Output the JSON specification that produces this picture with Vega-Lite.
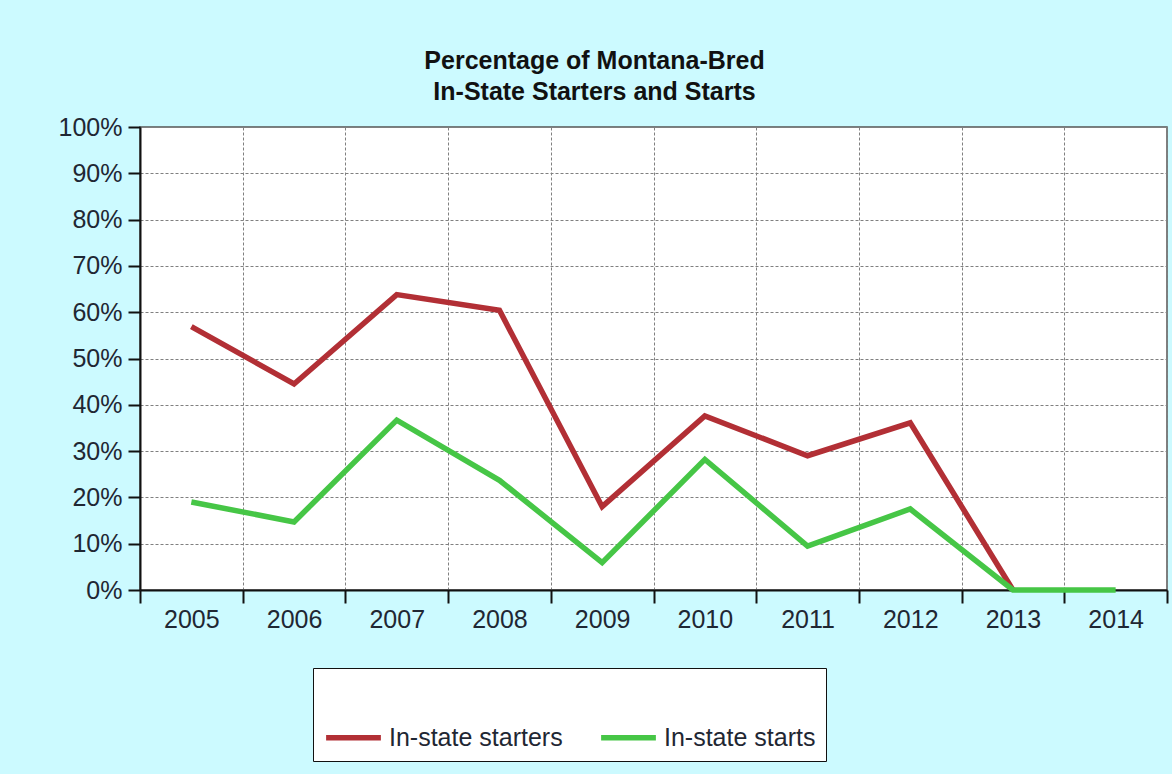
{
  "$schema": "https://vega.github.io/schema/vega-lite/v6.json",
  "autosize": {"type": "none"},
  "width": 1027,
  "height": 463,
  "padding": {"left": 140, "top": 127, "right": 5, "bottom": 184},
  "background": "#CCFAFF",
  "title": {
    "text": ["Percentage of Montana-Bred", "In-State Starters and Starts"],
    "font": "Liberation Sans",
    "fontSize": 25,
    "fontWeight": "bold",
    "color": "#111111",
    "anchor": "middle",
    "frame": "group",
    "dx": -59,
    "offset": 10,
    "lineHeight": 31
  },
  "data": {
    "values": [
      {"year": "2005", "series": "In-state starters", "pct": 0.569},
      {"year": "2006", "series": "In-state starters", "pct": 0.445},
      {"year": "2007", "series": "In-state starters", "pct": 0.638},
      {"year": "2008", "series": "In-state starters", "pct": 0.604},
      {"year": "2009", "series": "In-state starters", "pct": 0.180},
      {"year": "2010", "series": "In-state starters", "pct": 0.376},
      {"year": "2011", "series": "In-state starters", "pct": 0.290},
      {"year": "2012", "series": "In-state starters", "pct": 0.361},
      {"year": "2013", "series": "In-state starters", "pct": 0.0},
      {"year": "2005", "series": "In-state starts", "pct": 0.190},
      {"year": "2006", "series": "In-state starts", "pct": 0.147},
      {"year": "2007", "series": "In-state starts", "pct": 0.367},
      {"year": "2008", "series": "In-state starts", "pct": 0.237},
      {"year": "2009", "series": "In-state starts", "pct": 0.059},
      {"year": "2010", "series": "In-state starts", "pct": 0.282},
      {"year": "2011", "series": "In-state starts", "pct": 0.095},
      {"year": "2012", "series": "In-state starts", "pct": 0.175},
      {"year": "2013", "series": "In-state starts", "pct": 0.0},
      {"year": "2014", "series": "In-state starts", "pct": 0.0}
    ]
  },
  "mark": {"type": "line", "strokeWidth": 5.5, "strokeJoin": "miter", "strokeCap": "butt"},
  "encoding": {
    "x": {
      "field": "year",
      "type": "ordinal",
      "scale": {"type": "band", "paddingInner": 0, "paddingOuter": 0},
      "axis": {
        "title": null,
        "labelAngle": 0,
        "tickBand": "extent",
        "grid": true,
        "gridColor": "#808080",
        "gridDash": [3, 2],
        "gridWidth": 1,
        "domainColor": "#111111",
        "domainWidth": 2,
        "tickColor": "#111111",
        "tickWidth": 2,
        "tickSize": 13,
        "labelFont": "Liberation Sans",
        "labelFontSize": 25,
        "labelColor": "#1F2733",
        "labelPadding": 4
      }
    },
    "y": {
      "field": "pct",
      "type": "quantitative",
      "scale": {"domain": [0, 1], "nice": false},
      "axis": {
        "title": null,
        "values": [0, 0.1, 0.2, 0.3, 0.4, 0.5, 0.6, 0.7, 0.8, 0.9, 1],
        "format": ".0%",
        "grid": true,
        "gridColor": "#808080",
        "gridDash": [3, 2],
        "gridWidth": 1,
        "domainColor": "#111111",
        "domainWidth": 2,
        "tickColor": "#111111",
        "tickWidth": 2,
        "tickSize": 12,
        "labelFont": "Liberation Sans",
        "labelFontSize": 25,
        "labelColor": "#1F2733",
        "labelPadding": 6
      }
    },
    "color": {
      "field": "series",
      "type": "nominal",
      "scale": {"domain": ["In-state starters", "In-state starts"], "range": ["#B22F35", "#46C646"]},
      "legend": {
        "orient": "none",
        "legendX": 173,
        "legendY": 541,
        "direction": "horizontal",
        "title": " ",
        "titleFontSize": 25,
        "titlePadding": 4,
        "fillColor": "#FFFFFF",
        "strokeColor": "#111111",
        "padding": 10,
        "symbolType": "stroke",
        "symbolSize": 3000,
        "symbolStrokeWidth": 5.5,
        "labelFont": "Liberation Sans",
        "labelFontSize": 25,
        "labelColor": "#1F2733",
        "labelOffset": 5,
        "labelLimit": 300,
        "columnPadding": 27
      }
    }
  },
  "config": {
    "view": {"fill": "#FFFFFF", "stroke": "#555555", "strokeWidth": 1.5}
  }
}
